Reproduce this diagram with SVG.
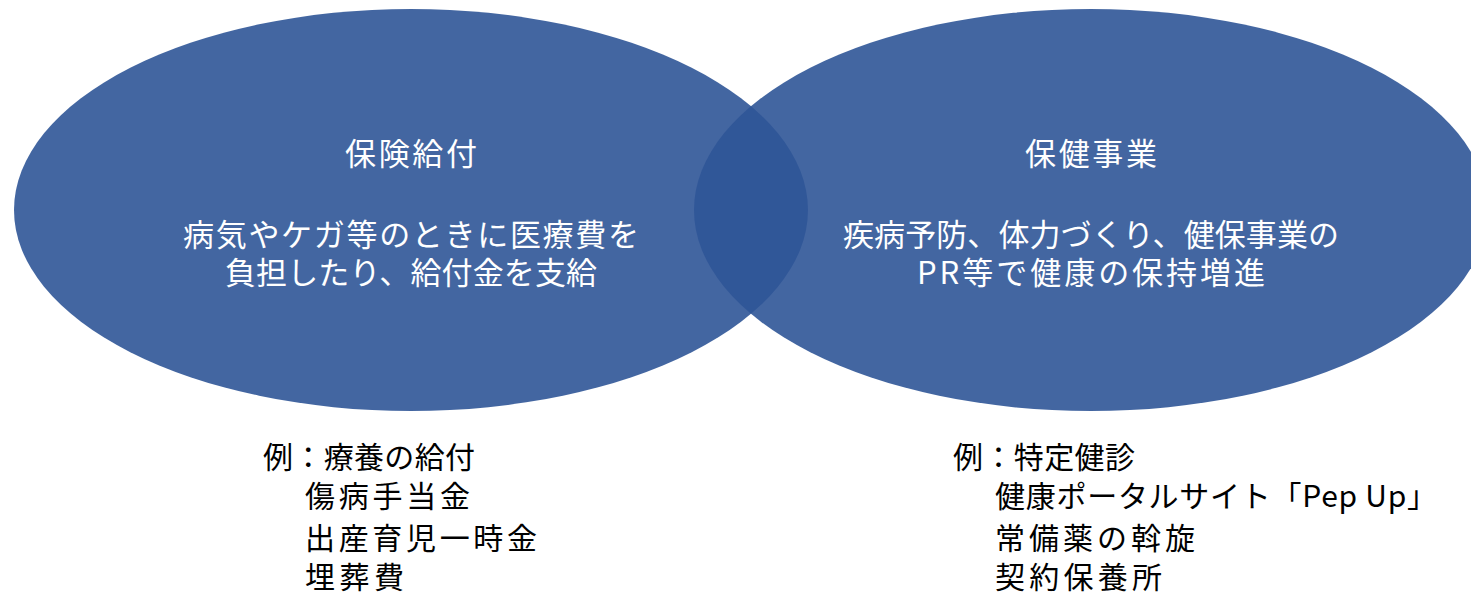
<svg xmlns="http://www.w3.org/2000/svg" width="1471" height="594" viewBox="0 0 1471 594">
<style>
.bub{fill:#2F5597;fill-opacity:0.9}
.in{font-family:"Noto Sans CJK JP","Noto Sans",sans-serif;font-size:31px;fill:#ffffff;text-anchor:middle}
.ex{font-family:"Noto Sans CJK JP","Noto Sans",sans-serif;font-size:30px;fill:#000000}
</style>
<rect width="1471" height="594" fill="#ffffff"/>
<g id="hoken-kyufu">
<ellipse class="bub" cx="411" cy="210" rx="397" ry="201"/>
<text class="in" x="411" y="165" textLength="132">保険給付</text>
<text class="in" x="411" y="246" textLength="456">病気やケガ等のときに医療費を</text>
<text class="in" x="411" y="284" textLength="372">負担したり、給付金を支給</text>
</g>
<g id="hoken-jigyo">
<ellipse class="bub" cx="1091" cy="210" rx="397" ry="201"/>
<text class="in" x="1091" y="165" textLength="132">保健事業</text>
<text class="in" x="1091" y="246" textLength="496">疾病予防、体力づくり、健保事業の</text>
<text class="in" x="1091" y="284" textLength="348">PR等で健康の保持増進</text>
</g>
<g id="examples-left">
<text class="ex" x="263" y="468" textLength="212">例：療養の給付</text>
<text class="ex" x="305" y="507" textLength="165">傷病手当金</text>
<text class="ex" x="305" y="549" textLength="232">出産育児一時金</text>
<text class="ex" x="305" y="588" textLength="99">埋葬費</text>
</g>
<g id="examples-right">
<text class="ex" x="953" y="468" textLength="182">例：特定健診</text>
<text class="ex" x="995" y="507" textLength="442">健康ポータルサイト「Pep Up」</text>
<text class="ex" x="995" y="549" textLength="200">常備薬の斡旋</text>
<text class="ex" x="995" y="588" textLength="167">契約保養所</text>
</g>
<g id="connectors"/>
</svg>
